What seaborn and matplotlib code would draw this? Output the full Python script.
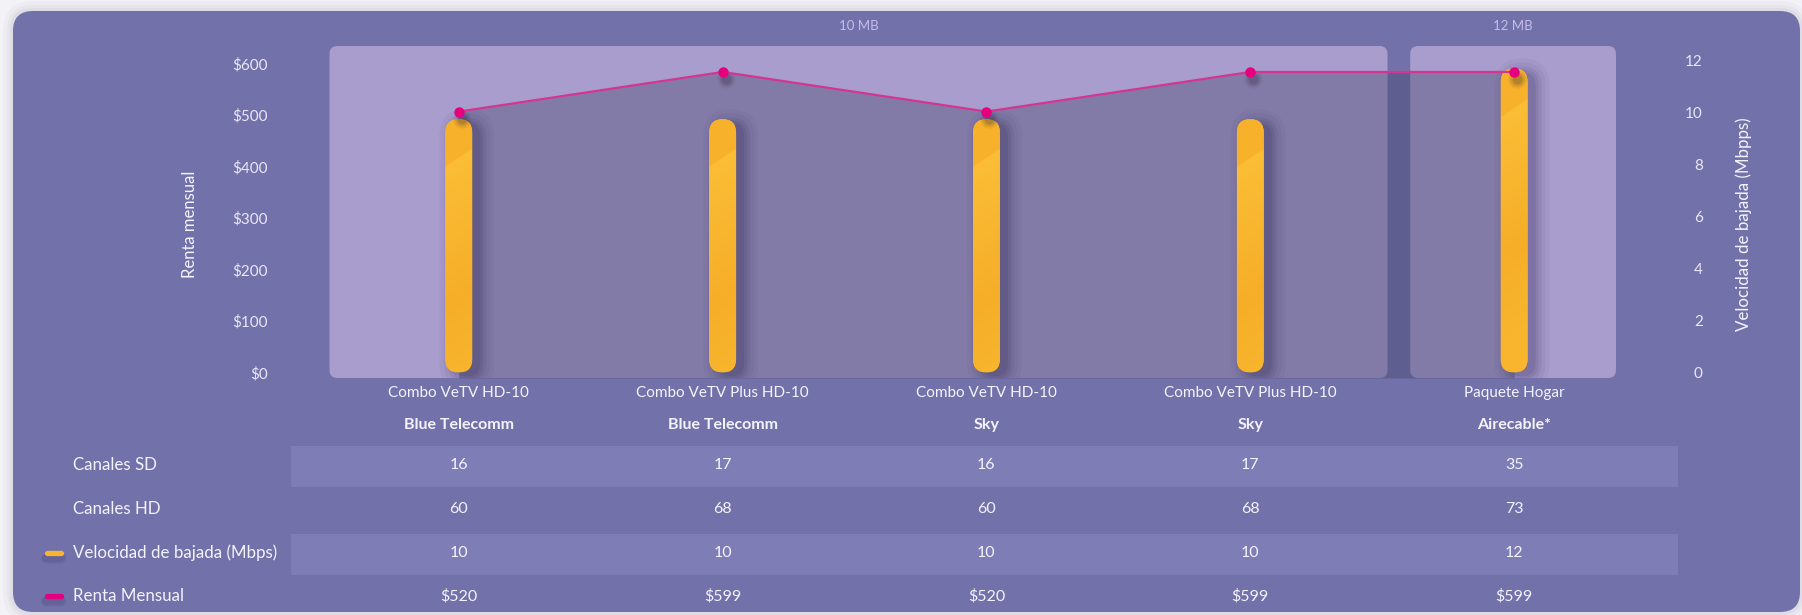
import numpy as np
import matplotlib
matplotlib.use("Agg")
import matplotlib.pyplot as plt
from matplotlib.patches import FancyBboxPatch
from matplotlib import transforms
from matplotlib.lines import Line2D
from matplotlib.colors import to_rgb
import seaborn as sns

# Datos del cuadro comparativo
planes = ["Combo VeTV HD-10", "Combo VeTV Plus HD-10", "Combo VeTV HD-10",
          "Combo VeTV Plus HD-10", "Paquete Hogar"]
empresas = ["Blue Telecomm", "Blue Telecomm", "Sky", "Sky", "Airecable*"]
grupos = ["10 MB", "10 MB", "10 MB", "10 MB", "12 MB"]
canales_sd = [16, 17, 16, 17, 35]
canales_hd = [60, 68, 60, 68, 73]
velocidad = [10, 10, 10, 10, 12]
renta = [520, 599, 520, 599, 599]
renta_ticks = [0, 100, 200, 300, 400, 500, 600]
vel_ticks = [0, 2, 4, 6, 8, 10, 12]

# Colores
FONDO = "#f3f2f7"
TARJETA = "#7371aa"
PANEL = "#a99dcd"
FRANJA = "#7f7db6"
AREA = "#3b3b5f"
AMARILLO = "#f8b42c"
LINEA = "#d33592"
PUNTO = "#e5007e"
BLANCO = "#f4f3fb"
TICK = "#e9e7f6"
GRUPO = "#c6bee8"

sns.set_theme(style="white")
plt.rcParams["font.family"] = ["Lato", "DejaVu Sans"]

W, H = 1802, 615
fig = plt.figure(figsize=(W / 100, H / 100), dpi=100, facecolor=FONDO)

# fondo en pixeles
bg = fig.add_axes([0, 0, 1, 1])
bg.set_xlim(0, W)
bg.set_ylim(0, H)
bg.axis("off")
for s, a in [(10, 0.03), (6, 0.04), (3, 0.05)]:
    bg.add_patch(FancyBboxPatch((13 - s, 3 - s), 1787 + 2 * s, 601 + 2 * s,
                                boxstyle=f"round,pad=0,rounding_size={20 + s}",
                                fc="#4a4870", ec="none", alpha=a))
bg.add_patch(FancyBboxPatch((13, 3), 1787, 601, boxstyle="round,pad=0,rounding_size=20",
                            fc=TARJETA, ec="none"))

AX_L, AX_R, AX_T, AX_B = 329, 1616, 46, 378
ax = fig.add_axes([AX_L / W, 1 - AX_B / H, (AX_R - AX_L) / W, (AX_B - AX_T) / H])
ax.set_facecolor("none")
ax2 = ax.twinx()
ax3 = ax.twinx()

x = list(range(len(planes)))
XLIM = (-0.492, 4.386)
YL = (-11.2, 650.8)
YR = (-0.22, 12.89)
ESC = 0.975  # las etiquetas del original van algo mas abiertas que los datos

# barras de velocidad
sns.barplot(x=x, y=velocidad, ax=ax2, color=AMARILLO, width=0.102, saturation=1)
# linea de renta
sns.lineplot(x=x, y=renta, ax=ax3, color=LINEA, lw=1.6, marker="o", markersize=7.5,
             markerfacecolor=PUNTO, markeredgecolor=PUNTO, markeredgewidth=0, zorder=5)


def limites():
    for a in (ax, ax2, ax3):
        a.set_xlim(*XLIM)
    ax.set_ylim(*YL)
    ax3.set_ylim(*YL)
    ax2.set_ylim(*YR)


limites()
for a in (ax, ax2, ax3):
    for sp in a.spines.values():
        sp.set_visible(False)

# paneles de grupo
PAD = {"10 MB": (0.49, 0.52), "12 MB": (0.394, 0.386)}
for g in dict.fromkeys(grupos):
    idx = [i for i, v in enumerate(grupos) if v == g]
    x0, x1 = idx[0] - PAD[g][0], idx[-1] + PAD[g][1]
    p0 = ax.transData.transform((x0, YL[0]))
    p1 = ax.transData.transform((x1, YL[1]))
    bg.add_patch(FancyBboxPatch((p0[0], p0[1]), p1[0] - p0[0], p1[1] - p0[1],
                                boxstyle="round,pad=0,rounding_size=8", fc=PANEL, ec="none"))
    bg.text((p0[0] + p1[0]) / 2, H - 26, g, ha="center", va="center",
            fontsize=9.5, color=GRUPO)

# area bajo la renta
ax.fill_between(x, renta, YL[0], color=AREA, alpha=0.34, lw=0, zorder=1)

# barras redondeadas con sombra y brillo
pa = ax2.transData.transform((0, 0))
pb = ax2.transData.transform((1, 1))
dxpp = 1 / (pb[0] - pa[0])
dypp = 1 / (pb[1] - pa[1])
m = dypp / dxpp
sombra_t = transforms.offset_copy(ax2.transData, fig=fig, x=8, y=-4, units="dots")

# degradado del brillo (filas de arriba a abajo, columnas de izq. a der.)
nv, nu = 320, 30
vv, uu = np.mgrid[0:nv, 0:nu]
c_top = np.array(to_rgb("#f7b12a"))
c_lig = np.array(to_rgb("#fbbe36"))
c_mid = np.array(to_rgb("#f6ae29"))
c_bot = np.array(to_rgb("#f8b52d"))
for r in list(ax2.patches):
    bx, by, bw, bh = r.get_x(), r.get_y(), r.get_width(), r.get_height()
    r.remove()
    for s, a in [(14, 0.04), (10, 0.05), (6, 0.07), (3, 0.09), (0, 0.1)]:
        ax2.add_patch(FancyBboxPatch((bx - s * dxpp, by - s * dypp), bw + 2 * s * dxpp,
                                     bh + 2 * s * dypp,
                                     boxstyle=f"round,pad=0,rounding_size={bw / 2 + s * dxpp}",
                                     mutation_aspect=m, fc="#1e1a45", ec="none", alpha=a,
                                     transform=sombra_t, zorder=2))
    barra = FancyBboxPatch((bx, by), bw, bh, boxstyle=f"round,pad=0,rounding_size={bw / 2}",
                           mutation_aspect=m, fc=AMARILLO, ec="none", zorder=3)
    ax2.add_patch(barra)
    # pixeles de la barra
    alto_px = bh / dypp
    ancho_px = bw / dxpp
    py = vv / nv * alto_px
    px = uu / nu * ancho_px
    borde = 48 - 18 * px / ancho_px
    t1 = np.clip((py - borde) / 140, 0, 1)[..., None]
    t2 = np.clip((py - borde - 140) / 80, 0, 1)[..., None]
    abajo = c_lig * (1 - t1) + c_mid * t1
    abajo = abajo * (1 - t2) + c_bot * t2
    col = np.where((py < borde)[..., None], c_top, abajo)
    im = ax2.imshow(col, extent=(bx, bx + bw, by, by + bh), aspect="auto", origin="upper",
                    zorder=3.1, interpolation="bilinear")
    im.set_clip_path(barra)
limites()

# sombra de los puntos
punto_t = transforms.offset_copy(ax3.transData, fig=fig, x=3, y=-7, units="dots")
for ms, a in [(13, 0.08), (10, 0.12), (7, 0.16)]:
    ax3.plot(x, renta, "o", ms=ms, color="#2a2036", alpha=a, mew=0, transform=punto_t, zorder=4)

# ejes
ax.set_xticks(x)
ax.set_xticklabels(planes)
ax.tick_params(axis="x", length=0, pad=6, labelsize=11, labelcolor=BLANCO)
ax.set_yticks([])
ax2.set_yticks([])
ax3.yaxis.set_visible(False)
ax.grid(False)
ax2.grid(False)

sec_l = ax.secondary_yaxis("left", functions=(lambda y: y * ESC, lambda s: s / ESC))
sec_l.set_yticks(renta_ticks)
sec_l.set_yticklabels([f"${v}" for v in renta_ticks])
sec_l.tick_params(axis="y", length=0, pad=44, labelsize=11, labelcolor=TICK)
sec_r = ax2.secondary_yaxis("right", functions=(lambda y: y * ESC, lambda s: s / ESC))
sec_r.set_yticks(vel_ticks)
sec_r.set_yticklabels([str(v) for v in vel_ticks])
sec_r.tick_params(axis="y", length=0, pad=62.5, labelsize=11, labelcolor=TICK)
for t_ in sec_r.get_yticklabels():
    t_.set_ha("right")
for sec in (sec_l, sec_r):
    for sp in sec.spines.values():
        sp.set_visible(False)

ax.set_ylabel("Renta mensual", fontsize=12, color=BLANCO, va="center")
ax.yaxis.set_label_coords(-0.108, 0.464)
ax2.set_ylabel("Velocidad de bajada (Mbpps)", fontsize=12.2, color=BLANCO, va="center")
ax2.yaxis.set_label_coords(1.0995, 0.464)

# tabla inferior
mix = transforms.blended_transform_factory(ax.transData, bg.transData)
for i, e in enumerate(empresas):
    ax.text(i, H - 425, e, transform=mix, ha="center", va="center", fontsize=11.5,
            fontweight="bold", color=BLANCO)

filas = [("Canales SD", [str(v) for v in canales_sd], True, None),
         ("Canales HD", [str(v) for v in canales_hd], False, None),
         ("Velocidad de bajada (Mbps)", [str(v) for v in velocidad], True, AMARILLO),
         ("Renta Mensual", [f"${v}" for v in renta], False, PUNTO)]
fila_y = [465, 509, 553, 596]
b0 = ax.transData.transform((-0.636, 0))[0]
b1 = ax.transData.transform((4.622, 0))[0]
for (nombre, vals, franja, color), yy in zip(filas, fila_y):
    yb = H - yy
    if franja:
        bg.add_patch(plt.Rectangle((b0, yb - 22), b1 - b0, 41, fc=FRANJA, ec="none"))
    bg.text(73, yb, nombre, ha="left", va="center", fontsize=12.2, color=BLANCO)
    if color:
        for s, a in [(4, 0.08), (2.5, 0.12)]:
            bg.add_line(Line2D([46, 61], [yb - 5, yb - 5], lw=3.6 + s, color="#2a2550",
                               alpha=a, solid_capstyle="round"))
        bg.add_line(Line2D([46.5, 60.5], [yb, yb], lw=3.8, color=color, solid_capstyle="round"))
    for i, v in enumerate(vals):
        ax.text(i, yb, v, transform=mix, ha="center", va="center", fontsize=11.5, color=BLANCO)

fig.savefig("out.png", dpi=100, facecolor=FONDO)
